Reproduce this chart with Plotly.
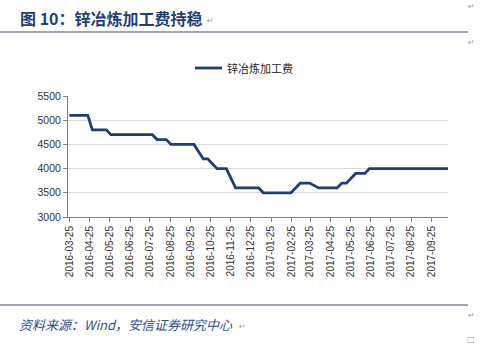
import plotly.graph_objects as go

# Vertices of the zinc smelting TC line
dates = ["2016-03-25", "2016-04-22", "2016-04-29", "2016-05-20", "2016-05-27",
         "2016-07-29", "2016-08-05", "2016-08-19", "2016-08-26", "2016-09-30",
         "2016-10-07", "2016-10-14", "2016-10-21", "2016-10-28", "2016-11-04",
         "2016-11-18", "2016-11-25", "2016-12-02", "2017-01-06", "2017-01-13",
         "2017-02-24", "2017-03-03", "2017-03-10", "2017-03-24", "2017-03-31",
         "2017-04-07", "2017-05-05", "2017-05-12", "2017-05-19", "2017-05-26",
         "2017-06-02", "2017-06-16", "2017-06-23", "2017-10-20"]
values = [5100, 5100, 4800, 4800, 4700,
          4700, 4600, 4600, 4500, 4500,
          4350, 4200, 4200, 4100, 4000,
          4000, 3800, 3600, 3600, 3500,
          3500, 3600, 3700, 3700, 3650,
          3600, 3600, 3700, 3700, 3800,
          3900, 3900, 4000, 4000]

tick_vals = ["2016-03-25", "2016-04-25", "2016-05-25", "2016-06-25", "2016-07-25",
             "2016-08-25", "2016-09-25", "2016-10-25", "2016-11-25", "2016-12-25",
             "2017-01-25", "2017-02-25", "2017-03-25", "2017-04-25", "2017-05-25",
             "2017-06-25", "2017-07-25", "2017-08-25", "2017-09-25"]
y_ticks = [3000, 3500, 4000, 4500, 5000, 5500]

series_name = "锌冶炼加工费"
title_text = "图 10：锌冶炼加工费持稳"
source_text = "资料来源：Wind，安信证券研究中心"

W, H = 500, 356
ML, MR, MT, MB = 68, 52, 96, 139
pw, ph = W - ML - MR, H - MT - MB


def px(x):
    return (x - ML) / pw


def py(y):
    return (H - MB - y) / ph


navy = "#1F3F73"
fig = go.Figure()
fig.add_trace(go.Scatter(x=dates, y=values, mode="lines", name=series_name,
                         line=dict(color=navy, width=2.8), showlegend=False,
                         hoverinfo="skip"))

fig.update_layout(
    width=W, height=H,
    margin=dict(l=ML, r=MR, t=MT, b=MB),
    paper_bgcolor="white", plot_bgcolor="white",
    font=dict(family="Liberation Sans, Arial, sans-serif", size=10, color="#333333"),
    xaxis=dict(type="date", range=["2016-03-23", "2017-10-20"],
               tickvals=tick_vals, ticktext=tick_vals, tickangle=-90,
               showgrid=False, showline=True, linecolor="#808080", linewidth=1,
               ticks="outside", ticklen=4, tickcolor="#808080",
               tickfont=dict(family="Liberation Sans, Arial", size=10, color="#333333")),
    yaxis=dict(range=[3000, 5500], tickvals=y_ticks,
               showgrid=True, gridcolor="#D9D9D9", gridwidth=1,
               showline=True, linecolor="#808080", linewidth=1,
               ticks="outside", ticklen=4, tickcolor="#808080",
               tickfont=dict(family="Liberation Sans, Arial", size=10.5, color="#333333")),
)

# Legend drawn manually (short line sample + label)
fig.add_shape(type="line", xref="paper", yref="paper", x0=px(195), x1=px(222),
              y0=py(68), y1=py(68), line=dict(color=navy, width=2.8))
fig.add_annotation(text=series_name, x=px(225), y=py(68), xref="paper", yref="paper",
                   showarrow=False, xanchor="left", yanchor="middle",
                   font=dict(family="Noto Sans CJK SC", size=11, color="#222222"))

# Title, rules and source note
fig.add_annotation(text="<b>" + title_text + "</b>", x=px(18), y=py(18), xref="paper",
                   yref="paper", showarrow=False, xanchor="left", yanchor="middle",
                   font=dict(family="Noto Sans CJK SC", size=16, color="#1F3F77"))
fig.add_annotation(text="<i>" + source_text + "</i>", x=px(17), y=py(324), xref="paper",
                   yref="paper", showarrow=False, xanchor="left", yanchor="middle",
                   font=dict(family="Noto Sans CJK SC", size=13, color="#2F4F86"))

for (x, y, t) in [(471, 6, "↵"), (471, 43, "↵"), (471, 315, "↵"), (471, 339, "□"),
                  (210, 20, "↵"), (242, 326, "↵")]:
    fig.add_annotation(text=t, x=px(x), y=py(y), xref="paper", yref="paper",
                       showarrow=False, xanchor="center", yanchor="middle",
                       font=dict(family="DejaVu Sans", size=8, color="#999999"))

fig.add_shape(type="line", xref="paper", yref="paper", x0=px(0), x1=px(468),
              y0=py(32), y1=py(32), line=dict(color="#3A4F6E", width=1.2))
fig.add_shape(type="line", xref="paper", yref="paper", x0=px(0), x1=px(468),
              y0=py(305), y1=py(305), line=dict(color="#3A4F6E", width=1.2))

fig.write_html("out.html", config={"displayModeBar": False},
               post_script="document.body.style.margin='0';")
